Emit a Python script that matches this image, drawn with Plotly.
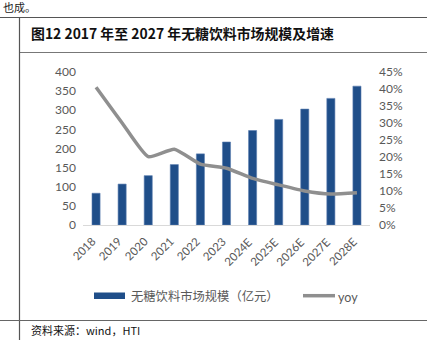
import plotly.graph_objects as go

years = ["2018", "2019", "2020", "2021", "2022", "2023", "2024E", "2025E", "2026E", "2027E", "2028E"]
market_size = [83, 107, 129, 158, 186, 217, 247, 276, 303, 331, 363]
yoy = [0.405, 0.30, 0.201, 0.223, 0.179, 0.167, 0.137, 0.118, 0.100, 0.091, 0.095]

W, H = 431, 348
L, R, T, B = 83, 370, 72, 225

def px(x):
    return (x - L) / (R - L)

def py(y):
    return (B - y) / (B - T)

BAR_COLOR = "#1F4E89"
LINE_COLOR = "#8F8F8F"
TXT = "#595959"
FONT = "Lato, 'Noto Sans CJK SC', sans-serif"
CJK = "'Noto Sans CJK SC', sans-serif"

fig = go.Figure()
fig.add_trace(go.Bar(x=years, y=market_size, name="无糖饮料市场规模（亿元）",
                     marker=dict(color=BAR_COLOR, line=dict(color="#5B7DB0", width=0.6)),
                     width=0.31, yaxis="y"))
fig.add_trace(go.Scatter(x=years, y=yoy, name="yoy", mode="lines",
                         line=dict(color=LINE_COLOR, width=3.5, shape="spline", smoothing=0.5),
                         yaxis="y2"))

shapes = []
def line(x0, y0, x1, y1, color="#404040", width=1):
    shapes.append(dict(type="line", xref="paper", yref="paper",
                       x0=px(x0), y0=py(y0), x1=px(x1), y1=py(y1),
                       line=dict(color=color, width=width)))

# frame lines
line(0, 17.5, 427, 17.5, "#555555", 1.2)
line(19.5, 52.5, 427, 52.5, "#777777", 1)
line(19.5, 17.5, 19.5, 340, "#555555", 1.2)
line(0, 320.5, 427, 320.5, "#666666", 1.2)

# legend swatches
shapes.append(dict(type="rect", xref="paper", yref="paper",
                   x0=px(94), x1=px(125), y0=py(292.5), y1=py(299),
                   fillcolor=BAR_COLOR, line=dict(width=0)))
line(303, 295.7, 335, 295.7, LINE_COLOR, 3.5)

annotations = [
    dict(text="也成。", x=px(1), y=py(7), xref="paper", yref="paper", xanchor="left", yanchor="middle",
         showarrow=False, font=dict(family=CJK, size=11, color="#222222")),
    dict(text="<b>图12 2017 年至 2027 年无糖饮料市场规模及增速</b>", x=px(29), y=py(33),
         xref="paper", yref="paper", xanchor="left", yanchor="middle", showarrow=False,
         font=dict(family=CJK, size=13.9, color="#111111")),
    dict(text="无糖饮料市场规模（亿元）", x=px(129), y=py(296), xref="paper", yref="paper",
         xanchor="left", yanchor="middle", showarrow=False, font=dict(family=CJK, size=12.3, color=TXT)),
    dict(text="yoy", x=px(336), y=py(297), xref="paper", yref="paper",
         xanchor="left", yanchor="middle", showarrow=False, font=dict(family=FONT, size=12.5, color=TXT)),
    dict(text="资料来源：wind，HTI", x=px(29), y=py(330), xref="paper", yref="paper",
         xanchor="left", yanchor="middle", showarrow=False, font=dict(family=CJK, size=11, color="#111111")),
]

# rotated category labels (x given as category index on the category axis)
for i, yr in enumerate(years):
    annotations.append(dict(text=yr, x=i, xref="x", y=py(232), yref="paper",
                            xanchor="right", yanchor="top", xshift=5, textangle=-45,
                            showarrow=False, font=dict(family=FONT, size=11.5, color=TXT)))

fig.update_layout(
    width=W, height=H,
    margin=dict(l=L, r=W - R, t=T, b=H - B, pad=0),
    paper_bgcolor="white", plot_bgcolor="white",
    showlegend=False,
    bargap=0.69,
    font=dict(family=FONT, size=12, color=TXT),
    xaxis=dict(type="category", categoryorder="array", categoryarray=years,
               range=[-0.5, len(years) - 0.5],
               showticklabels=False, showline=True, linecolor="#D9D9D9", linewidth=1,
               ticks="", showgrid=False),
    yaxis=dict(range=[0, 400], dtick=50, showgrid=False, zeroline=False, showline=False,
               ticks="", ticklabelstandoff=6, tickfont=dict(size=12, color=TXT)),
    yaxis2=dict(range=[0, 0.45], dtick=0.05, tickformat=".0%", overlaying="y", side="right",
                showgrid=False, zeroline=False, showline=False, ticks="", ticklabelstandoff=8,
                tickfont=dict(size=12, color=TXT)),
    shapes=shapes,
    annotations=annotations,
)

fig.write_html("out.html")
